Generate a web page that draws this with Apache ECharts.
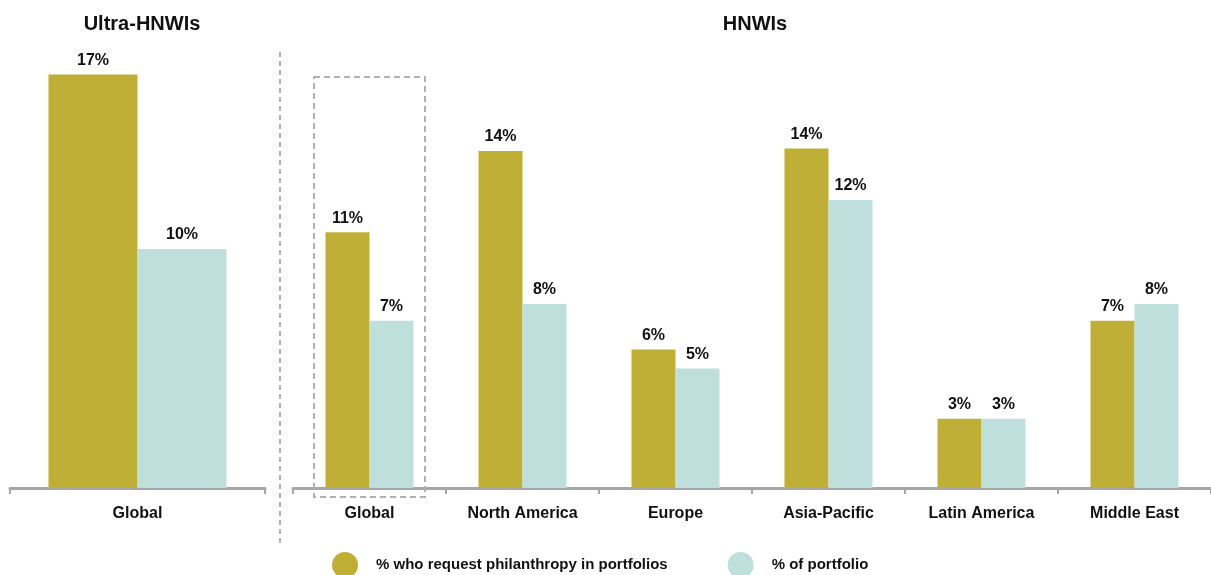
<!DOCTYPE html>
<html>
<head>
<meta charset="utf-8">
<title></title>
<style type="text/css">
  html, body { margin:0; padding:0; background:#fff; }
  #main { width:1211px; height:575px; }
</style>
<script src="https://cdn.jsdelivr.net/npm/echarts@6/dist/echarts.min.js"></script>
</head>
<body>
<div id="main"></div>
<script type="text/javascript">
// data
var seriesNames = ['% who request philanthropy in portfolios', '% of portfolio'];
var uhnwiCats = ['Global'];
var uhnwiRequest = [17.3];
var uhnwiPortfolio = [10.0];
var hnwiCats = ['Global', 'North America', 'Europe', 'Asia-Pacific', 'Latin America', 'Middle East'];
var hnwiRequest = [10.7, 14.1, 5.8, 14.2, 2.9, 7.0];
var hnwiPortfolio = [7.0, 7.7, 5.0, 12.05, 2.9, 7.7];

var gold = '#c0af36';
var teal = '#bfdfdd';
var font = '"Liberation Sans Narrow", "Arial Narrow", sans-serif';

var myChart = echarts.init(document.getElementById('main'));

function lbl() {
  return {
    show: true, position: 'top', distance: 6,
    color: '#111', fontFamily: font, fontWeight: 'bold', fontSize: 16,
    formatter: function (p) { return Math.round(p.value) + '%'; }
  };
}
function xAx(idx, cats) {
  return {
    type: 'category', gridIndex: idx, data: cats,
    axisLine: { lineStyle: { color: '#a6a6a6', width: 3 } },
    axisTick: { show: true, length: 6, lineStyle: { color: '#a6a6a6', width: 2 } },
    axisLabel: { color: '#111', fontFamily: font, fontWeight: 'bold', fontSize: 16, margin: 18 }
  };
}
function yAx(idx) {
  return { type: 'value', gridIndex: idx, min: 0, max: 20, show: false, splitLine: { show: false } };
}

var option = {
  animation: false,
  title: [
    { text: 'Ultra-HNWIs', left: 137, top: 9, textAlign: 'center',
      textStyle: { fontFamily: font, fontWeight: 'bold', fontSize: 20, color: '#111' } },
    { text: 'HNWIs', left: 750, top: 9, textAlign: 'center',
      textStyle: { fontFamily: font, fontWeight: 'bold', fontSize: 20, color: '#111' } }
  ],
  legend: {
    data: seriesNames, left: 332, top: 552, padding: 0, itemGap: 60,
    icon: 'circle', itemWidth: 26, itemHeight: 26,
    textStyle: { fontFamily: font, fontWeight: 'bold', fontSize: 15, color: '#111', padding: [0, 0, 0, 13] }
  },
  grid: [
    { left: 10, width: 255, top: 10, bottom: 87 },
    { left: 293, right: -3, top: 10, bottom: 87 }
  ],
  xAxis: [xAx(0, uhnwiCats), xAx(1, hnwiCats)],
  yAxis: [yAx(0), yAx(1)],
  series: [
    { name: seriesNames[0], type: 'bar', xAxisIndex: 0, yAxisIndex: 0, data: uhnwiRequest,
      barWidth: 89, barGap: '0%', itemStyle: { color: gold }, label: lbl() },
    { name: seriesNames[1], type: 'bar', xAxisIndex: 0, yAxisIndex: 0, data: uhnwiPortfolio,
      barWidth: 89, barGap: '0%', itemStyle: { color: teal }, label: lbl() },
    { name: seriesNames[0], type: 'bar', xAxisIndex: 1, yAxisIndex: 1, data: hnwiRequest,
      barWidth: 44, barGap: '0%', itemStyle: { color: gold }, label: lbl() },
    { name: seriesNames[1], type: 'bar', xAxisIndex: 1, yAxisIndex: 1, data: hnwiPortfolio,
      barWidth: 44, barGap: '0%', itemStyle: { color: teal }, label: lbl() }
  ],
  graphic: [
    // separator between the two panels
    { type: 'line', shape: { x1: 280, y1: 52, x2: 280, y2: 545 }, z: 10,
      style: { stroke: '#b0b0b0', lineWidth: 2, lineDash: [5, 4] } },
    // highlight box around HNWI Global
    { type: 'rect', shape: { x: 314, y: 77, width: 111, height: 420 }, z: 10,
      style: { fill: 'none', stroke: '#b0b0b0', lineWidth: 2, lineDash: [6, 4] } }
  ]
};

myChart.setOption(option);
</script>
</body>
</html>
